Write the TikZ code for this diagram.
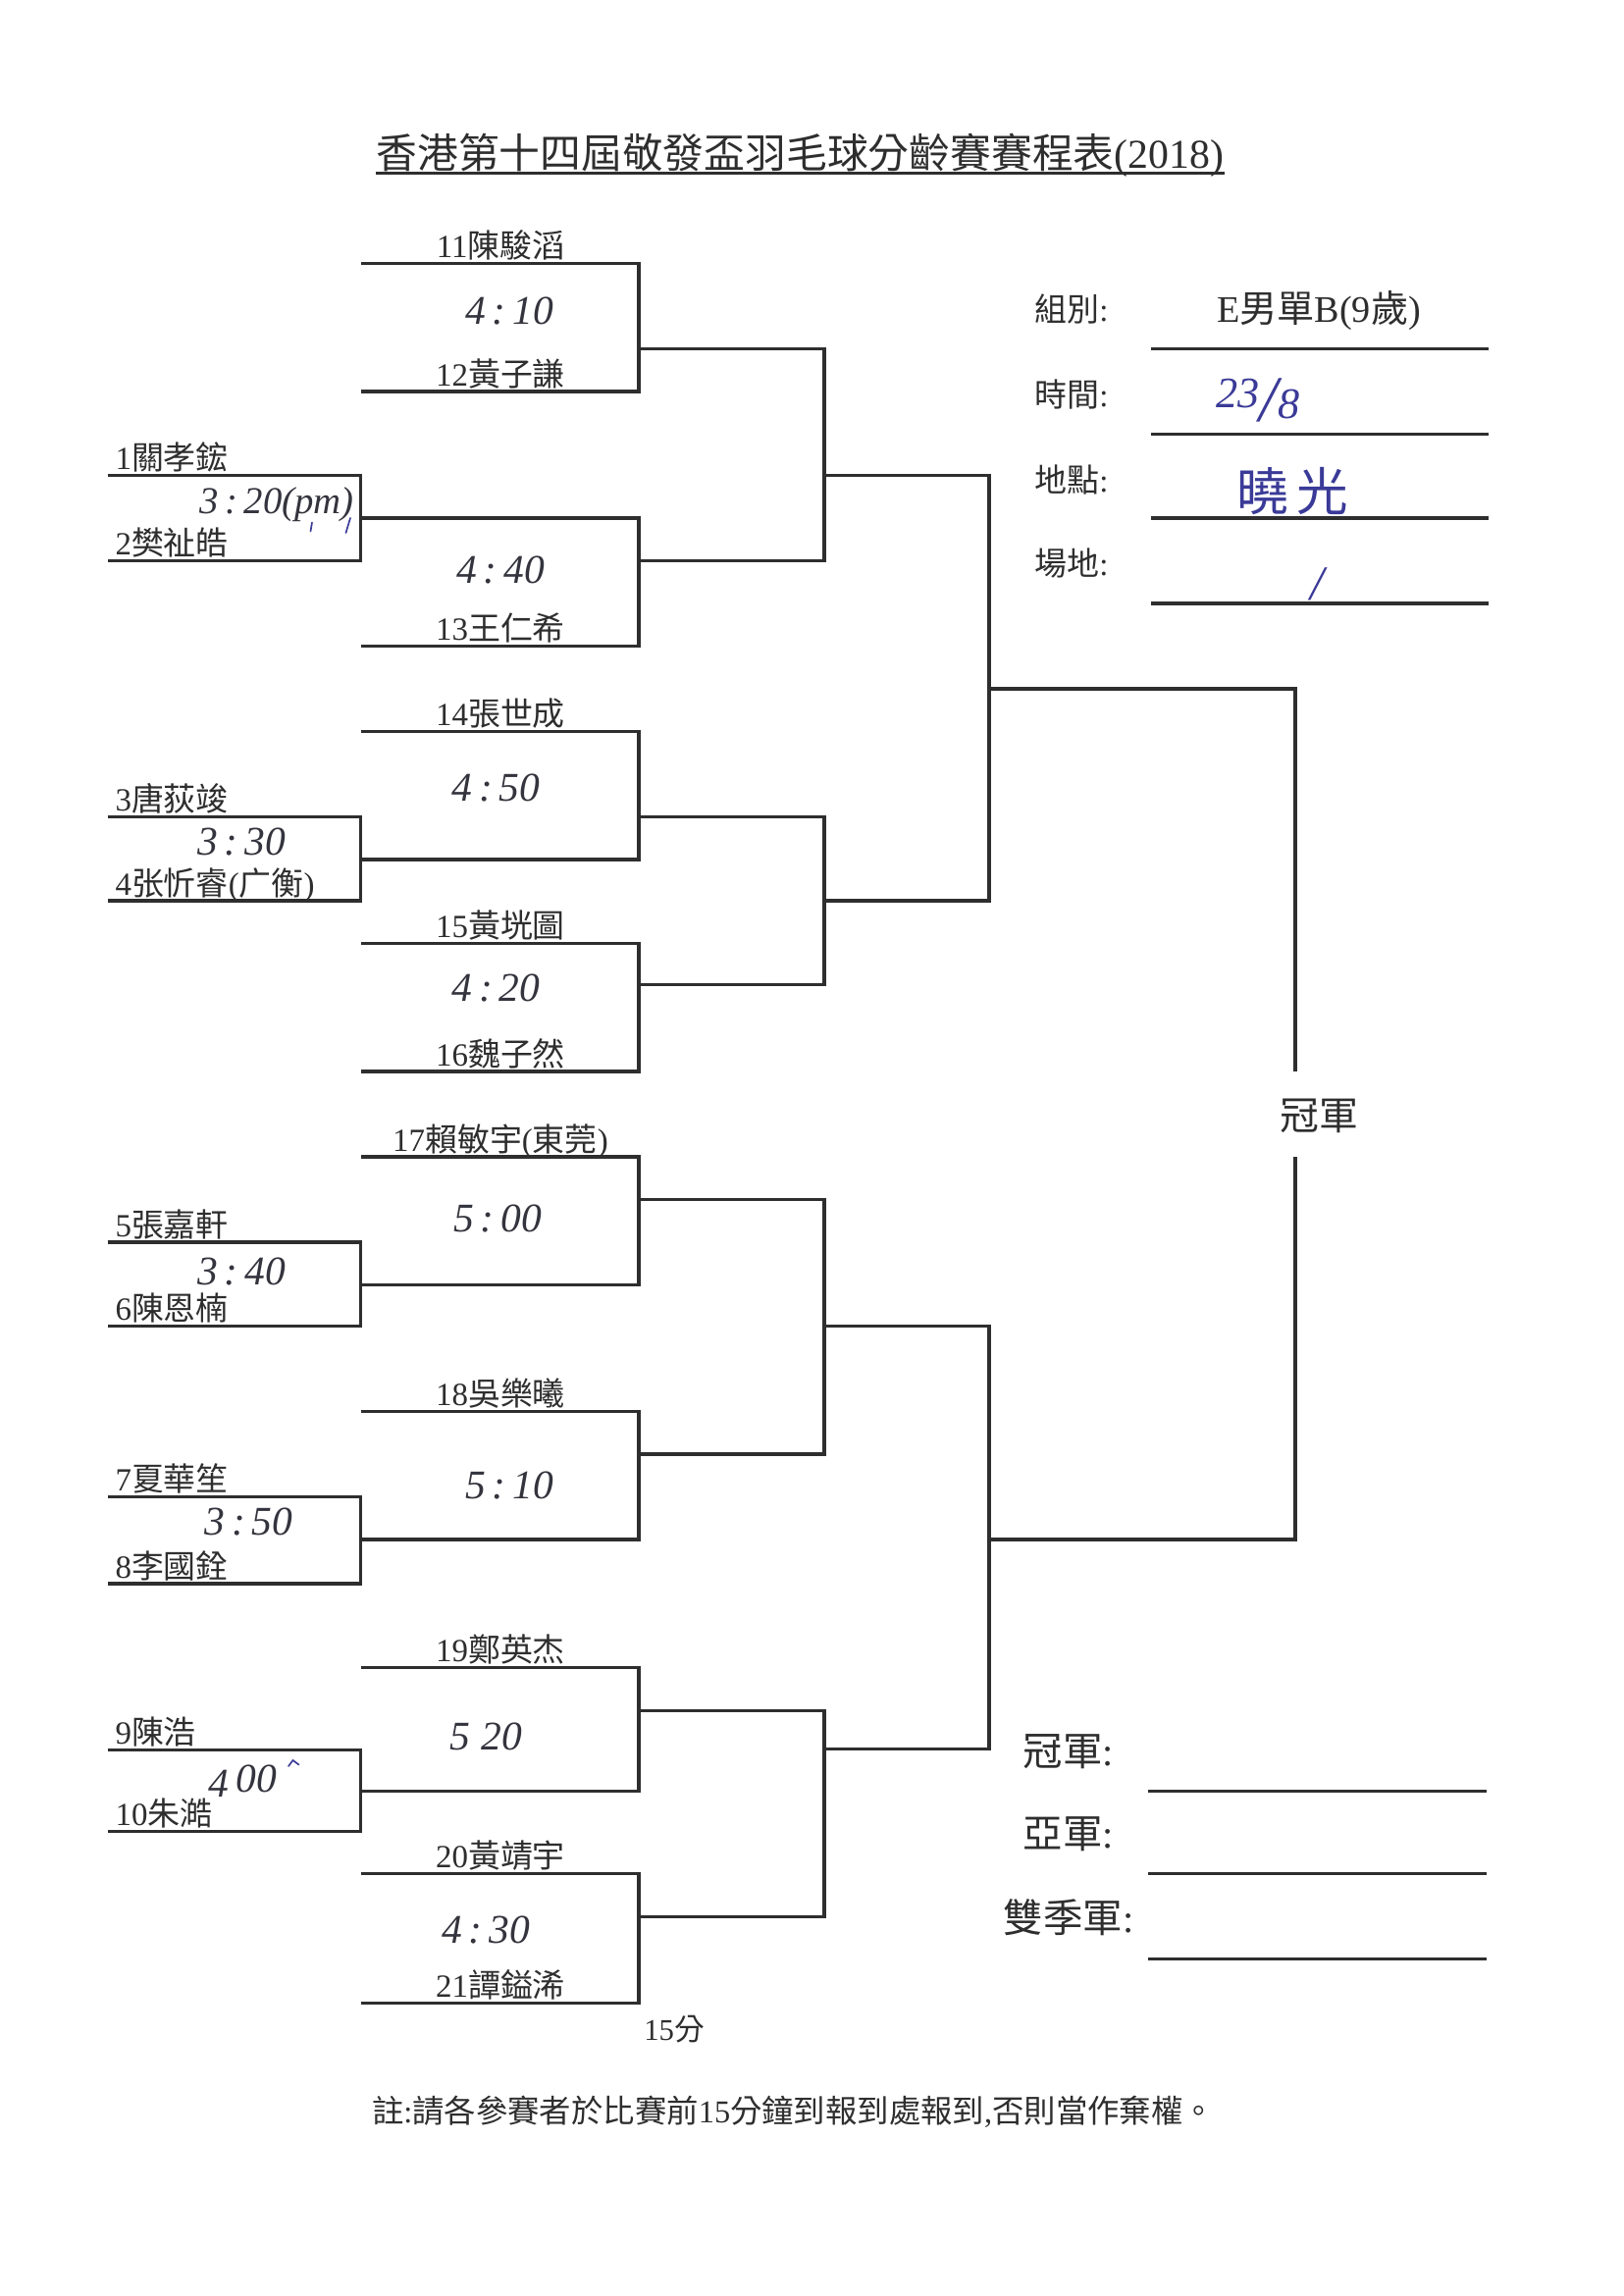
\documentclass[tikz,border=0pt]{standalone}
\usepackage{fontspec}
\setmainfont{Liberation Serif}
\newfontfamily\cjkfont{Noto Sans CJK TC}
\newcommand{\zh}[1]{{\cjkfont #1}}
\definecolor{ink}{HTML}{2E2E2E}
\definecolor{pen}{HTML}{34343E}
\definecolor{blueink}{HTML}{3A3A98}
\newcommand{\pairline}[4]{\draw[br] (#1,#3) -- (#2,#3) -- (#2,#4) -- (#1,#4);}
\begin{document}
\begin{tikzpicture}[x=0.1905mm, y=-0.1905mm,
  br/.style={line width=1.1pt, draw=ink},
  rl/.style={line width=1.1pt, draw=ink},
  nm/.style={anchor=base, inner sep=0pt, text=ink, font=\fontsize{11.9}{12}\selectfont},
  lnm/.style={nm, anchor=base west},
  hw/.style={inner sep=0pt, text=pen, font=\fontsize{15}{15}\selectfont\itshape},
  bhw/.style={inner sep=0pt, text=blueink, font=\fontsize{16}{16}\selectfont\itshape},
  lab/.style={anchor=base, inner sep=0pt, text=ink, font=\fontsize{11.9}{12}\selectfont},
  blab/.style={inner sep=0pt, text=ink, font=\fontsize{14.6}{15}\selectfont},
  inkmark/.style={draw=blueink, line width=0.6pt, line cap=round}
]
\useasboundingbox (0,0) rectangle (1102.67,1560);
\fill[white] (0,0) rectangle (1102.67,1560);

% title
\node[anchor=base, inner sep=0pt, text=ink, font=\fontsize{15.1}{16}\selectfont] (title) at (543.5,114)
  {\zh{香港第十四屆敬發盃羽毛球分齡賽賽程表}(2018)};
\draw[ink, line width=0.8pt] ([yshift=-2pt]title.base west) -- ([yshift=-2pt]title.base east);

% first-round pairs (left column)
\pairline{73}{245}{323}{381}
\pairline{73}{245}{555}{612}
\pairline{73}{245}{844}{901}
\pairline{73}{245}{1017}{1076}
\pairline{73}{245}{1189}{1244}

% second column matches
\pairline{245}{434}{179}{266}
\pairline{245}{434}{352}{439}
\pairline{245}{434}{497}{584}
\pairline{245}{434}{641}{728}
\pairline{245}{434}{786}{873}
\pairline{245}{434}{959}{1046}
\pairline{245}{434}{1133}{1217}
\pairline{245}{434}{1273}{1361}

% third column
\pairline{434}{560}{237}{381}
\pairline{434}{560}{555}{669}
\pairline{434}{560}{815}{988}
\pairline{434}{560}{1162}{1302}

% fourth column
\pairline{560}{672}{323}{612}
\pairline{560}{672}{901}{1188}

% final
\draw[br] (672,468) -- (880,468) -- (880,728);
\draw[br] (880,786) -- (880,1046) -- (672,1046);
\node[inner sep=0pt, text=ink, font=\fontsize{14.4}{15}\selectfont] (champ) at (896,758) {\zh{冠軍}};

% names, second column
\node[nm] (n11) at (340,175) {11\zh{陳駿滔}};
\node[nm] (n12) at (340,262) {12\zh{黃子謙}};
\node[nm] (n13) at (340,435) {13\zh{王仁希}};
\node[nm] (n14) at (340,493) {14\zh{張世成}};
\node[nm] (n15) at (340,637) {15\zh{黃垙圖}};
\node[nm] (n16) at (340,724) {16\zh{魏子然}};
\node[nm] (n17) at (340,782) {17\zh{賴敏宇}(\zh{東莞})};
\node[nm] (n18) at (340,955) {18\zh{吳樂曦}};
\node[nm] (n19) at (340,1129) {19\zh{鄭英杰}};
\node[nm] (n20) at (340,1269) {20\zh{黃靖宇}};
\node[nm] (n21) at (340,1357) {21\zh{譚鎰浠}};

% names, left column
\node[lnm] (n1) at (78,319) {1\zh{關孝鋐}};
\node[lnm] (n2) at (78,377) {2\zh{樊祉皓}};
\node[lnm] (n3) at (78,551) {3\zh{唐荻竣}};
\node[lnm] (n4) at (78,608) {4\zh{张忻睿}(\zh{广衡})};
\node[lnm] (n5) at (78,840) {5\zh{張嘉軒}};
\node[lnm] (n6) at (78,897) {6\zh{陳恩楠}};
\node[lnm] (n7) at (78,1013) {7\zh{夏華笙}};
\node[lnm] (n8) at (78,1072) {8\zh{李國銓}};
\node[lnm] (n9) at (78,1185) {9\zh{陳浩}};
\node[lnm] (n10) at (78,1240) {10\zh{朱澔}};

% handwritten times
\node[hw] (t1) at (346,211) {4\,:\,10};
\node[hw, font=\fontsize{14}{14}\selectfont\itshape] (t2) at (188,343) {3\,:\,20(pm)};
\node[hw] (t3) at (340,387) {4\,:\,40};
\node[hw] (t4) at (337,535) {4\,:\,50};
\node[hw] (t5) at (164,572) {3\,:\,30};
\node[hw] (t6) at (337,671) {4\,:\,20};
\node[hw] (t7) at (338,828) {5\,:\,00};
\node[hw] (t8) at (164,864) {3\,:\,40};
\node[hw] (t9) at (346,1009) {5\,:\,10};
\node[hw] (t10) at (169,1034) {3\,:\,50};
\node[hw] (t11) at (330,1180) {5\;20};
\node[hw] (t12) at (165,1210) {4\,\raisebox{2pt}{00}};
\node[hw] (t13) at (330,1311) {4\,:\,30};
\draw[inkmark] (212,355) -- (211,361);
\draw[inkmark] (238,352) -- (235,362);
\draw[inkmark] (196,1200) -- (199,1196) -- (203,1199);

% info block
\node[lab] (l1) at (728,218) {\zh{組別}:};
\node[lab] (l2) at (728,276) {\zh{時間}:};
\node[lab] (l3) at (728,334) {\zh{地點}:};
\node[lab] (l4) at (728,391) {\zh{場地}:};
\node[anchor=base, inner sep=0pt, text=ink, font=\fontsize{13.8}{14}\selectfont] (grp) at (896,219) {E\zh{男單}B(9\zh{歲})};
\draw[rl] (782,237) -- (1011,237);
\draw[rl] (782,295) -- (1011,295);
\draw[rl] (782,352) -- (1011,352);
\draw[rl] (782,410) -- (1011,410);
\node[bhw, anchor=base west] (date) at (826,277) {23\raisebox{-5pt}{\fontsize{24}{24}\selectfont/}\raisebox{-4pt}{8}};
\node[inner sep=0pt, text=blueink, font=\fontsize{19}{19}\selectfont] (venue) at (878,334) {\zh{曉}\hspace{3pt}\zh{光}};
\node[bhw, font=\fontsize{18}{18}\selectfont\itshape] (court) at (895,397) {/};

% results block
\node[blab] (r1) at (726,1190) {\zh{冠軍}:};
\node[blab] (r2) at (726,1246) {\zh{亞軍}:};
\node[blab] (r3) at (726,1303) {\zh{雙季軍}:};
\draw[rl] (780,1217) -- (1010,1217);
\draw[rl] (780,1273) -- (1010,1273);
\draw[rl] (780,1331) -- (1010,1331);

% footer
\node[anchor=base, inner sep=0pt, text=ink, font=\fontsize{11.1}{12}\selectfont] (mins) at (458,1386) {15\zh{分}};
\node[anchor=base, inner sep=0pt, text=ink, font=\fontsize{11.7}{12}\selectfont] (note) at (539,1442)
  {\zh{註}:\zh{請各參賽者於比賽前}15\zh{分鐘到報到處報到},\zh{否則當作棄權。}};
\end{tikzpicture}
\end{document}
